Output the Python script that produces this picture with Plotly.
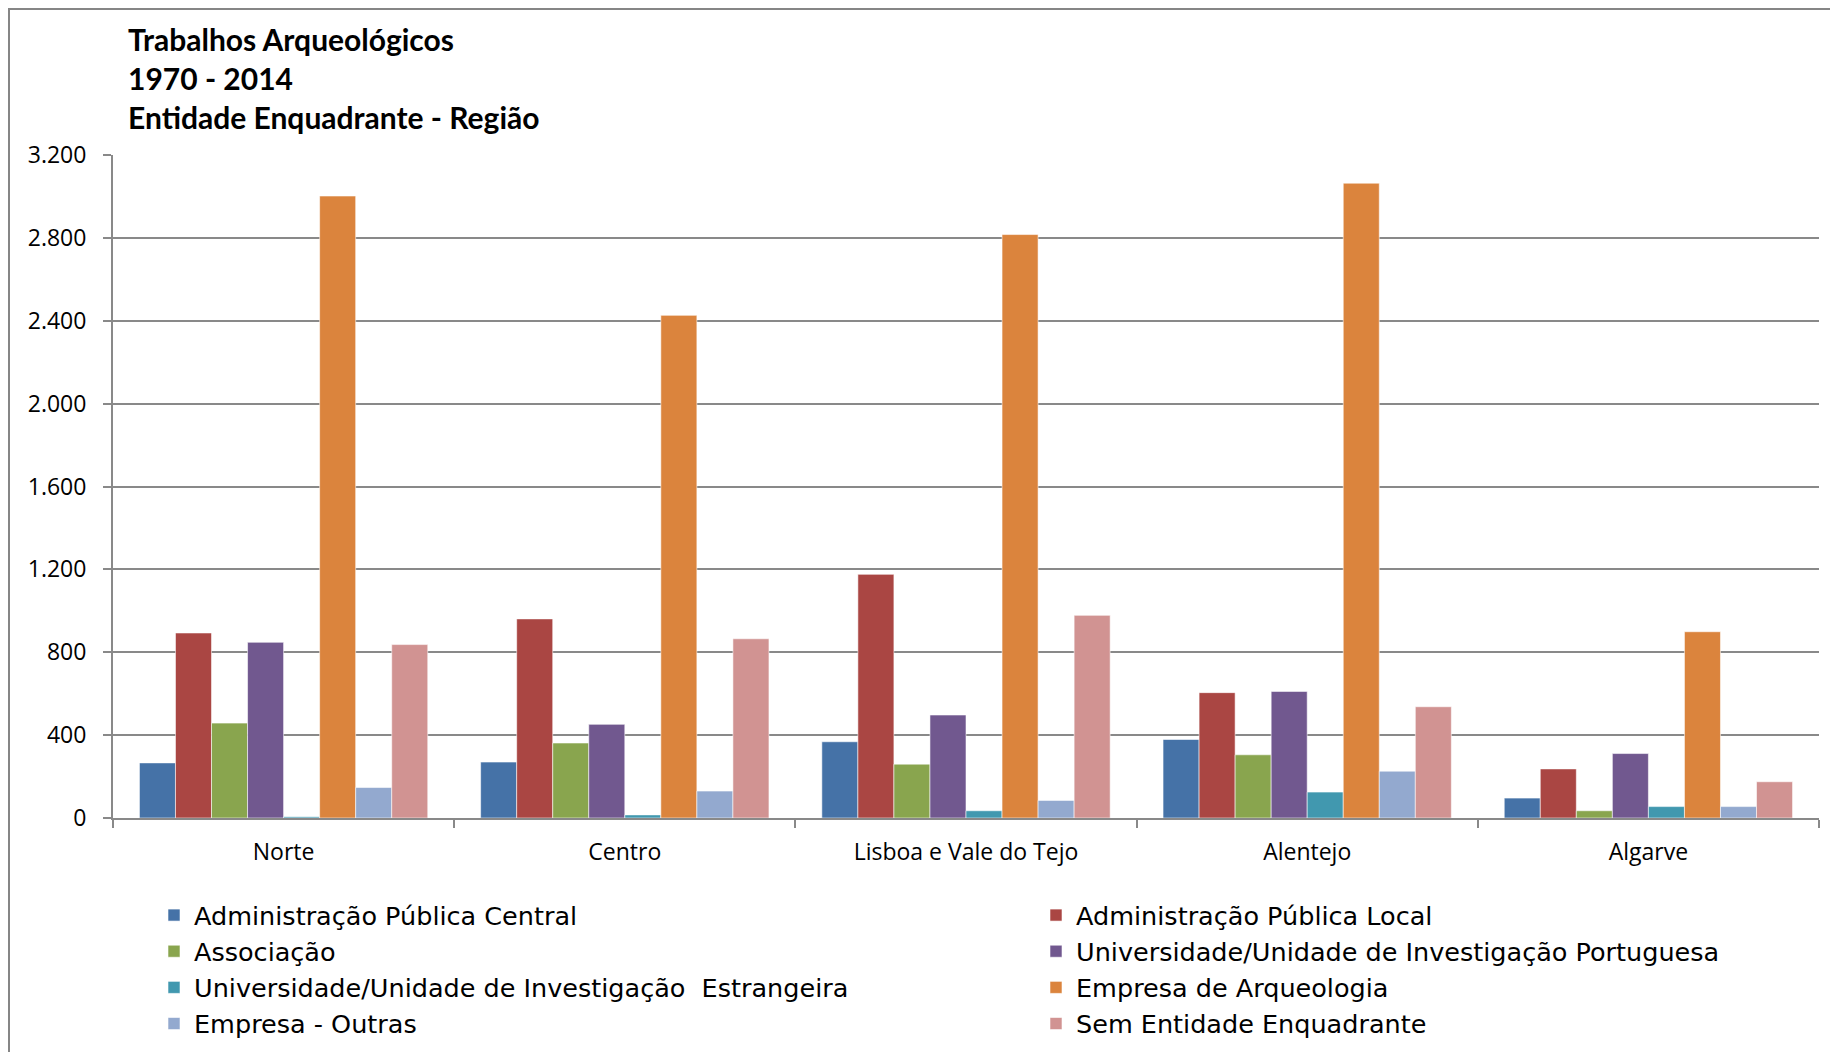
import plotly.graph_objects as go

regions = ["Norte", "Centro", "Lisboa e Vale do Tejo", "Alentejo", "Algarve"]

series_names = [
    "Administração Pública Central",
    "Administração Pública Local",
    "Associação",
    "Universidade/Unidade de Investigação Portuguesa",
    "Universidade/Unidade de Investigação  Estrangeira",
    "Empresa de Arqueologia",
    "Empresa - Outras",
    "Sem Entidade Enquadrante",
]

adm_central = [266, 270, 368, 379, 96]
adm_local = [893, 961, 1176, 605, 237]
associacao = [458, 362, 260, 305, 35]
univ_pt = [848, 452, 497, 611, 311]
univ_estr = [6, 15, 35, 125, 55]
empresa_arq = [3002, 2426, 2816, 3064, 899]
empresa_outras = [147, 130, 85, 226, 55]
sem_entidade = [837, 865, 978, 537, 175]

series_values = [adm_central, adm_local, associacao, univ_pt,
                 univ_estr, empresa_arq, empresa_outras, sem_entidade]

colors = ["#4572A7", "#AA4643", "#89A54E", "#71588F",
          "#4198AF", "#DB843D", "#93A9CF", "#D19392"]

y_tick_vals = [0, 400, 800, 1200, 1600, 2000, 2400, 2800, 3200]

title_lines = ["Trabalhos Arqueológicos", "1970 - 2014", "Entidade Enquadrante - Região"]

fig = go.Figure()
for i, (name, vals, col) in enumerate(zip(series_names, series_values, colors)):
    fig.add_trace(go.Bar(
        x=regions, y=vals, name=name,
        legend="legend" if i % 2 == 0 else "legend2",
        marker=dict(color=col, line=dict(color="rgba(255,255,255,0.7)", width=0.8)),
    ))

# page offset (body margin) = 8px
OFF = 8
W, H = 1838, 1052
ml, mr, mt, mb = 113 - OFF, 19 + OFF, 155 - OFF, 234 + OFF
pw, ph = W - ml - mr, H - mt - mb

def px_x(x):
    return (x - OFF - ml) / pw

def px_y(y):
    return (H - mb - (y - OFF)) / ph

legend_font = dict(family="DejaVu Sans", size=25.5, color="#000000")
legend_common = dict(
    orientation="v", xanchor="left", yanchor="top",
    font=legend_font, bgcolor="rgba(0,0,0,0)", traceorder="normal",
    borderwidth=0, itemclick=False, itemdoubleclick=False,
)

fig.update_layout(
    width=W, height=H,
    margin=dict(l=ml, r=mr, t=mt, b=mb, autoexpand=False),
    paper_bgcolor="white", plot_bgcolor="white",
    barmode="group", bargap=0.155, bargroupgap=0,
    separators=",.",
    font=dict(family="Open Sans", size=23, color="#000000"),
    showlegend=True,
    legend=dict(x=px_x(154), y=px_y(892), **legend_common),
    legend2=dict(x=px_x(1036), y=px_y(892), **legend_common),
    xaxis=dict(
        type="category",
        showline=True, linecolor="#898989", linewidth=2,
        ticks="outside", tickson="boundaries", ticklen=8, tickwidth=2, tickcolor="#898989",
        showgrid=False,
        tickfont=dict(family="Open Sans", size=23, color="#000000"),
        ticklabelstandoff=12,
        fixedrange=True,
    ),
    yaxis=dict(
        range=[0, 3200], tickvals=y_tick_vals, tickformat=",d",
        showline=True, linecolor="#898989", linewidth=2,
        ticks="outside", ticklen=8, tickwidth=2, tickcolor="#898989",
        showgrid=True, gridcolor="#898989", gridwidth=1.6,
        zeroline=False,
        tickfont=dict(family="Open Sans", size=23, color="#000000"),
        ticklabelstandoff=12,
        fixedrange=True,
    ),
)

for line, ypix in zip(title_lines, [38.7, 78.5, 117.2]):
    fig.add_annotation(
        text="<b>" + line + "</b>", xref="paper", yref="paper",
        x=px_x(126), y=px_y(ypix), xanchor="left", yanchor="middle",
        showarrow=False,
        font=dict(family="Lato", size=30, color="#000000"),
    )

fig.add_shape(
    type="rect", xref="paper", yref="paper",
    x0=px_x(9), x1=px_x(1870), y0=px_y(1090), y1=px_y(9),
    line=dict(color="#868686", width=2), fillcolor="rgba(0,0,0,0)", layer="below",
)

fig.write_html("out.html")
